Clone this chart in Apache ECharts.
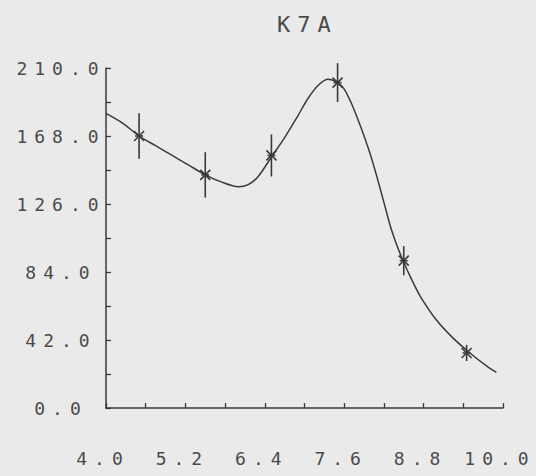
<!DOCTYPE html>
<html>
<head>
<meta charset="utf-8">
<script src="https://cdn.jsdelivr.net/npm/echarts@6/dist/echarts.min.js"></script>
<style>
  html, body { margin: 0; padding: 0; background: #eaeaea; }
  #chart { width: 536px; height: 476px; }
  /* wide plotter-style lettering */
  #chart text { letter-spacing: 7px; }
</style>
</head>
<body>
<div id="chart"></div>
<script>
// Measured points (x, value, error half-width)
const pointX = [4.5, 5.5, 6.5, 7.5, 8.5, 9.45];
const pointY = [168, 144, 156, 201, 91, 34];
const pointErr = [14, 14, 13, 12, 9, 5];

// Fitted curve samples
const curveX = [4.0, 4.25, 4.5, 4.75, 5.0, 5.25, 5.5, 5.75, 6.0, 6.15, 6.3, 6.5, 6.7, 6.9, 7.05, 7.2, 7.35, 7.5, 7.6, 7.7, 7.8, 7.9, 8.0, 8.1, 8.2, 8.3, 8.4, 8.5, 8.6, 8.75, 9.0, 9.25, 9.5, 9.75, 9.9];
const curveY = [182, 176, 168, 162, 156, 150, 144, 139.5, 136.7, 138, 143, 155, 167, 180.5, 191, 199, 203, 201, 197, 189, 179, 168, 156, 142, 127, 112, 100, 90, 81, 69, 54, 43, 34, 26, 22];

// Axis ticks
const xTickLabels = ['4.0', '5.2', '6.4', '7.6', '8.8', '10.0'];
const yTickLabels = ['0.0', '42.0', '84.0', '126.0', '168.0', '210.0'];

const INK = '#3a3a3a';
const TEXT = '#4a4a4a';
const FONT = 'DejaVu Sans Mono';

const chart = echarts.init(document.getElementById('chart'), null, { renderer: 'svg' });

chart.setOption({
  backgroundColor: '#eaeaea',
  animation: false,
  title: {
    text: 'K7A',
    left: 272,
    top: 8,
    textStyle: { fontFamily: FONT, fontSize: 22, fontWeight: 'normal', color: TEXT }
  },
  grid: { left: 106, right: 33, top: 68, bottom: 68 },
  xAxis: {
    type: 'value',
    min: 4.0,
    max: 10.0,
    interval: 0.6,
    splitLine: { show: false },
    axisLine: { lineStyle: { color: INK, width: 1.5 } },
    axisTick: { inside: true, length: 5, lineStyle: { color: INK, width: 1.3 } },
    axisLabel: {
      margin: 41,
      padding: [0, 6, 0, 0],
      fontFamily: FONT,
      fontSize: 18,
      color: TEXT,
      formatter: function (v) {
        const n = Math.round(v * 10);
        if ((n - 40) % 12 !== 0) return '';
        return xTickLabels[(n - 40) / 12] || '';
      }
    }
  },
  yAxis: {
    type: 'value',
    min: 0,
    max: 210,
    interval: 21,
    splitLine: { show: false },
    axisLine: { lineStyle: { color: INK, width: 1.5 } },
    axisTick: { inside: true, length: 5, lineStyle: { color: INK, width: 1.3 } },
    axisLabel: {
      margin: 45,
      align: 'center',
      fontFamily: FONT,
      fontSize: 18,
      color: TEXT,
      formatter: function (v) {
        const n = Math.round(v);
        if (n % 42 !== 0) return '';
        return yTickLabels[n / 42] || '';
      }
    }
  },
  series: [
    {
      type: 'line',
      data: curveX.map((x, i) => [x, curveY[i]]),
      smooth: 0.3,
      showSymbol: false,
      lineStyle: { color: INK, width: 1.5 },
      z: 2
    },
    {
      type: 'custom',
      data: pointX.map((x, i) => [x, pointY[i], pointErr[i]]),
      renderItem: function (params, api) {
        const x = api.value(0), y = api.value(1), e = api.value(2);
        const c = api.coord([x, y]);
        const top = api.coord([x, y + e]);
        const bot = api.coord([x, y - e]);
        const d = 5;
        const style = { stroke: INK, lineWidth: 1.6 };
        return {
          type: 'group',
          children: [
            { type: 'line', shape: { x1: top[0], y1: top[1], x2: bot[0], y2: bot[1] }, style: style },
            { type: 'line', shape: { x1: c[0] - d, y1: c[1] - d, x2: c[0] + d, y2: c[1] + d }, style: style },
            { type: 'line', shape: { x1: c[0] - d, y1: c[1] + d, x2: c[0] + d, y2: c[1] - d }, style: style },
            { type: 'line', shape: { x1: c[0] - 4, y1: c[1], x2: c[0] + 4, y2: c[1] }, style: style }
          ]
        };
      },
      z: 3
    }
  ]
});
</script>
</body>
</html>
